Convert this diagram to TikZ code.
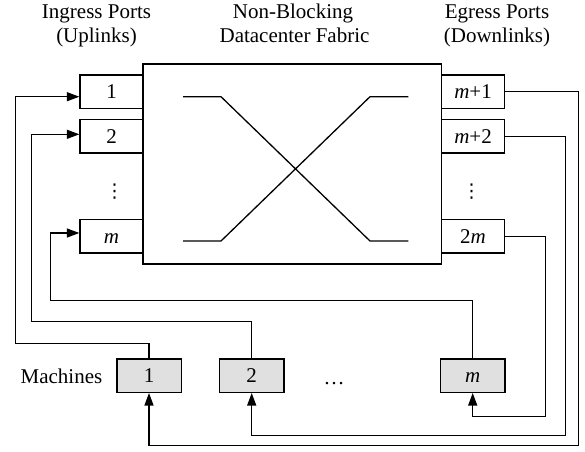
\documentclass[tikz,border=0pt]{standalone}
\usepackage{fontspec}
\setmainfont{Liberation Serif}
\newfontfamily\symfont{DejaVu Sans}
\usetikzlibrary{arrows.meta}
\tikzset{
  lbl/.style={font=\fontsize{21}{24}\selectfont, inner sep=0pt},
  port/.style={draw, line width=1.3pt, minimum width=63pt, minimum height=33.3pt,
    inner sep=0pt, text height=14pt, text depth=0pt, font=\fontsize{21}{24}\selectfont},
  machine/.style={port, fill=black!12, minimum width=64.3pt},
  fabric/.style={draw, line width=1.3pt, inner sep=0pt},
  link/.style={line width=1.25pt},
  feed/.style={link, -{Triangle[length=12.5pt,width=9pt]}},
  xbar/.style={line width=1.3pt},
  vdotsnode/.style={font=\symfont\fontsize{19}{22}\selectfont, inner sep=0pt}
}
\begin{document}
\begin{tikzpicture}[x=1pt, y=-1pt]
  \useasboundingbox (0,0) rectangle (585,451);

  % column headings
  \node[lbl, anchor=base] (hin1) at (96.5,18.3) {Ingress Ports};
  \node[lbl, anchor=base] (hin2) at (96.5,42.7) {(Uplinks)};
  \node[lbl, anchor=base] (hfab1) at (293,18.3) {Non-Blocking};
  \node[lbl, anchor=base] (hfab2) at (294.5,42.7) {Datacenter Fabric};
  \node[lbl, anchor=base] (hout1) at (497,18.3) {Egress Ports};
  \node[lbl, anchor=base] (hout2) at (497,42.7) {(Downlinks)};

  % switching fabric
  \node[fabric, minimum width=298.5pt, minimum height=200pt] (fab) at (292.25,164) {};
  \draw[xbar] (183,96.7) -- (221,96.7) -- (370,241) -- (408.3,241);
  \draw[xbar] (183,241) -- (221,241) -- (370,96.7) -- (408.3,96.7);

  % ingress ports
  \node[port] (in1) at (111.5,91.7) {1};
  \node[port] (in2) at (111.5,136.3) {2};
  \node[vdotsnode] (indots) at (114.5,191.5) {⋮};
  \node[port] (inm) at (111.5,236.3) {\textit{m}};

  % egress ports
  \node[port] (out1) at (473,91.7) {\textit{m}+1};
  \node[port] (out2) at (473,136.3) {\textit{m}+2};
  \node[vdotsnode] (outdots) at (471.5,191.5) {⋮};
  \node[port] (outm) at (473,236.3) {2\textit{m}};

  % machines
  \node[lbl, anchor=base] (mlabel) at (61.5,383.3) {Machines};
  \node[machine] (mc1) at (149,375.7) {1};
  \node[machine] (mc2) at (251.7,375.7) {2};
  \node[lbl, anchor=base] (mdots) at (334,384) {\ldots};
  \node[machine] (mcm) at (472.7,375.7) {\textit{m}};

  % uplinks: machine -> ingress port
  \coordinate (u1) at (15.7,343.3);
  \coordinate (u2) at (31.7,321.3);
  \coordinate (um) at (50.3,300.3);
  \draw[feed] (mc1.north) |- (u1) |- ([yshift=-5pt]in1.west);
  \draw[feed] (mc2.north) |- (u2) |- ([yshift=2pt]in2.west);
  \draw[feed] (mcm.north) |- (um) |- ([yshift=3.3pt]inm.west);

  % downlinks: egress port -> machine
  \coordinate (d1) at (578.5,445.7);
  \coordinate (d2) at (565.5,435.5);
  \coordinate (dm) at (545.5,416.7);
  \draw[feed] (out1.east) -| (d1) -| (mc1.south);
  \draw[feed] (out2.east) -| (d2) -| (mc2.south);
  \draw[feed] (outm.east) -| (dm) -| (mcm.south);
\end{tikzpicture}
\end{document}
